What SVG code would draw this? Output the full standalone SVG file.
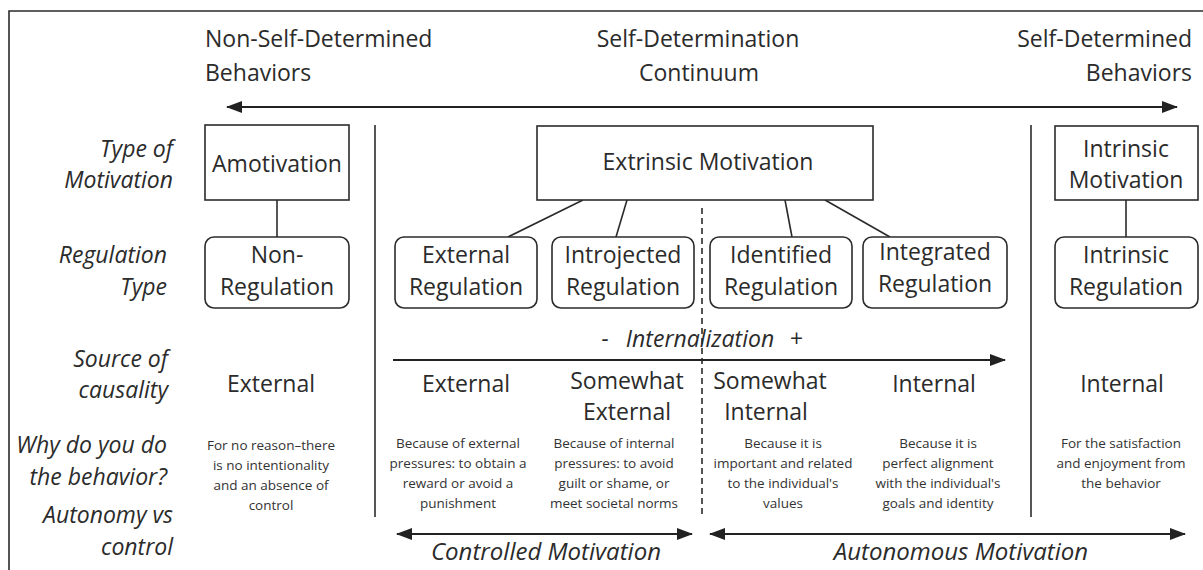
<svg xmlns="http://www.w3.org/2000/svg" width="1203" height="570" viewBox="0 0 1203 570">
<defs>
<marker id="ah" viewBox="0 0 16 12" refX="15" refY="6" markerWidth="16" markerHeight="12" markerUnits="userSpaceOnUse" orient="auto-start-reverse">
<path d="M0,0 L16,6 L0,12 Z" fill="#222"/>
</marker>
<style>
.t{font-family:"Open Sans","Liberation Sans",sans-serif;fill:#2b2b2b;font-size:23px}
.i{font-style:italic}
.b{font-size:24px}
.s{font-family:"Open Sans","Liberation Sans",sans-serif;fill:#333;font-size:13.5px}
.c{text-anchor:middle}
.r{text-anchor:end}
.ln{stroke:#2b2b2b;stroke-width:1.6;fill:none}
.box{stroke:#2b2b2b;stroke-width:1.6;fill:#fff}
.arr{stroke:#222;stroke-width:2.2;fill:none}
</style>
</defs>
<rect width="1203" height="570" fill="#fff"/>
<path class="ln" d="M9,570 V11 H1203"/>

<g id="header">
<text class="t" x="205" y="47">Non-Self-Determined</text>
<text class="t" x="205" y="81">Behaviors</text>
<text class="t c" x="698" y="47">Self-Determination</text>
<text class="t c" x="699" y="81">Continuum</text>
<text class="t r" x="1192" y="47">Self-Determined</text>
<text class="t r" x="1192" y="81">Behaviors</text>
</g>

<g id="row-labels">
<text class="t i r" x="173" y="157">Type of</text>
<text class="t i r" x="173" y="188">Motivation</text>
<text class="t i r" x="167" y="263">Regulation</text>
<text class="t i r" x="167" y="295">Type</text>
<text class="t i r" x="168" y="367">Source of</text>
<text class="t i r" x="168" y="398">causality</text>
<text class="t i r" x="167" y="453">Why do you do</text>
<text class="t i r" x="167" y="485">the behavior?</text>
<text class="t i r" x="173" y="523">Autonomy vs</text>
<text class="t i r" x="173" y="555">control</text>
</g>

<g id="connectors">
<line class="arr" x1="227" y1="107" x2="1177" y2="107" marker-start="url(#ah)" marker-end="url(#ah)"/>
<line class="ln" x1="375" y1="125" x2="375" y2="517"/>
<line class="ln" x1="1031" y1="125" x2="1031" y2="517"/>
<line class="ln" x1="702" y1="208" x2="702" y2="517" stroke-dasharray="6,4"/>
<line class="ln" x1="277" y1="200" x2="277" y2="237"/>
<line class="ln" x1="1126" y1="200" x2="1126" y2="237"/>
<line class="ln" x1="583" y1="200" x2="508" y2="237"/>
<line class="ln" x1="627" y1="200" x2="616" y2="237"/>
<line class="ln" x1="785" y1="200" x2="792" y2="237"/>
<line class="ln" x1="825" y1="200" x2="890" y2="237"/>
<line class="arr" x1="393" y1="360" x2="1005" y2="360" marker-end="url(#ah)"/>
<line class="arr" x1="397" y1="534" x2="692" y2="534" marker-start="url(#ah)" marker-end="url(#ah)"/>
<line class="arr" x1="710" y1="534" x2="1185" y2="534" marker-start="url(#ah)" marker-end="url(#ah)"/>
</g>

<g id="amotivation">
<rect class="box" x="205" y="125" width="144" height="75"/>
<text class="t c" x="277" y="172">Amotivation</text>
</g>
<g id="extrinsic">
<rect class="box" x="537" y="126" width="336" height="74"/>
<text class="t c" x="708" y="170">Extrinsic Motivation</text>
</g>
<g id="intrinsic">
<rect class="box" x="1055" y="126" width="143" height="74"/>
<text class="t c" x="1126" y="157">Intrinsic</text>
<text class="t c" x="1126" y="188">Motivation</text>
</g>

<g id="non-regulation">
<rect class="box" x="205" y="237" width="144" height="71" rx="9"/>
<text class="t c" x="277" y="263">Non-</text>
<text class="t c" x="277" y="295">Regulation</text>
</g>
<g id="external-regulation">
<rect class="box" x="395" y="237" width="142" height="71" rx="9"/>
<text class="t c" x="466" y="263">External</text>
<text class="t c" x="466" y="295">Regulation</text>
</g>
<g id="introjected-regulation">
<rect class="box" x="552" y="237" width="142" height="71" rx="9"/>
<text class="t c" x="623" y="263">Introjected</text>
<text class="t c" x="623" y="295">Regulation</text>
</g>
<g id="identified-regulation">
<rect class="box" x="710" y="237" width="142" height="71" rx="9"/>
<text class="t c" x="781" y="263">Identified</text>
<text class="t c" x="781" y="295">Regulation</text>
</g>
<g id="integrated-regulation">
<rect class="box" x="863" y="237" width="144" height="71" rx="9"/>
<text class="t c" x="935" y="260">Integrated</text>
<text class="t c" x="935" y="292">Regulation</text>
</g>
<g id="intrinsic-regulation">
<rect class="box" x="1055" y="237" width="143" height="71" rx="9"/>
<text class="t c" x="1126" y="263">Intrinsic</text>
<text class="t c" x="1126" y="295">Regulation</text>
</g>

<g id="internalization">
<text class="t i c" x="605" y="347">-</text>
<text class="t i c" x="700" y="347">Internalization</text>
<text class="t i c" x="796" y="347">+</text>
</g>

<g id="source">
<text class="t c" x="271" y="392">External</text>
<text class="t c" x="466" y="392">External</text>
<text class="t c" x="627" y="389">Somewhat</text>
<text class="t c" x="627" y="420">External</text>
<text class="t c" x="770" y="389">Somewhat</text>
<text class="t c" x="766" y="420">Internal</text>
<text class="t c" x="934" y="392">Internal</text>
<text class="t c" x="1122" y="392">Internal</text>
</g>

<g id="why">
<text class="s c" x="271" y="450">For no reason–there</text>
<text class="s c" x="271" y="470">is no intentionality</text>
<text class="s c" x="271" y="490">and an absence of</text>
<text class="s c" x="271" y="510">control</text>
<text class="s c" x="458" y="448">Because of external</text>
<text class="s c" x="458" y="468">pressures: to obtain a</text>
<text class="s c" x="458" y="488">reward or avoid a</text>
<text class="s c" x="458" y="508">punishment</text>
<text class="s c" x="614" y="448">Because of internal</text>
<text class="s c" x="614" y="468">pressures: to avoid</text>
<text class="s c" x="614" y="488">guilt or shame, or</text>
<text class="s c" x="614" y="508">meet societal norms</text>
<text class="s c" x="783" y="448">Because it is</text>
<text class="s c" x="783" y="468">important and related</text>
<text class="s c" x="783" y="488">to the individual's</text>
<text class="s c" x="783" y="508">values</text>
<text class="s c" x="938" y="448">Because it is</text>
<text class="s c" x="938" y="468">perfect alignment</text>
<text class="s c" x="938" y="488">with the individual's</text>
<text class="s c" x="938" y="508">goals and identity</text>
<text class="s c" x="1121" y="448">For the satisfaction</text>
<text class="s c" x="1121" y="468">and enjoyment from</text>
<text class="s c" x="1121" y="488">the behavior</text>
</g>

<g id="autonomy">
<text class="t i b c" x="546" y="560">Controlled Motivation</text>
<text class="t i b c" x="961" y="560">Autonomous Motivation</text>
</g>
</svg>
